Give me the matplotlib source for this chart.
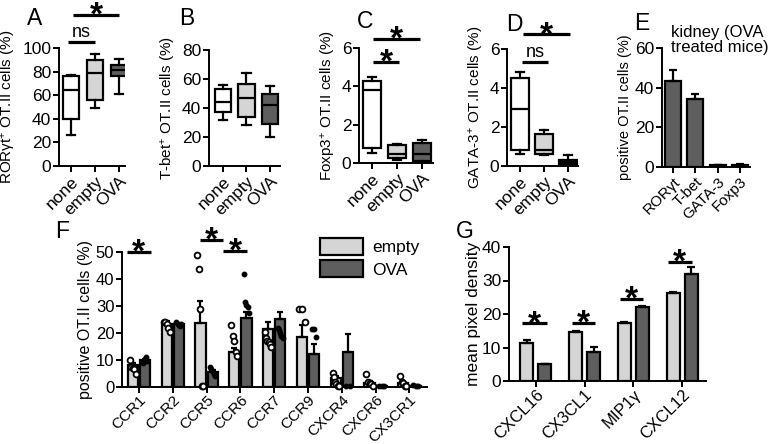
import numpy as np
import matplotlib
matplotlib.use("Agg")
import matplotlib.pyplot as plt
from matplotlib.patches import Patch

plt.rcParams["font.family"] = ["Liberation Sans", "DejaVu Sans"]
plt.rcParams["mathtext.fontset"] = "custom"
plt.rcParams["mathtext.rm"] = "Liberation Sans"
plt.rcParams["mathtext.it"] = "Liberation Sans:italic"
plt.rcParams["font.size"] = 12.5
plt.rcParams["axes.linewidth"] = 1.4

W, H = 772, 444

# --- panels A-D: box plots ---
groups = ["none", "empty", "OVA"]

rorgt_lo = [26, 49, 61]
rorgt_q1 = [40, 56, 76]
rorgt_med = [64, 79, 81]
rorgt_q3 = [76, 90, 86]
rorgt_hi = [77, 95, 91]

tbet_lo = [32, 28, 20]
tbet_q1 = [37.5, 33.5, 29]
tbet_med = [44, 47, 42]
tbet_q3 = [53, 56.5, 49.5]
tbet_hi = [56, 64, 55]

foxp3_lo = [0.5, 0.17, 0.03]
foxp3_q1 = [0.77, 0.26, 0.08]
foxp3_med = [3.8, 0.49, 0.49]
foxp3_q3 = [4.28, 0.92, 1.04]
foxp3_hi = [4.5, 0.99, 1.22]

gata3_lo = [0.6, 0.55, 0.0]
gata3_q1 = [0.8, 0.6, 0.12]
gata3_med = [2.92, 0.81, 0.2]
gata3_q3 = [4.5, 1.63, 0.3]
gata3_hi = [4.8, 1.84, 0.55]

# --- panel E ---
tf_names = ["RORγt", "T-bet", "GATA-3", "Foxp3"]
tf_mean = [43.5, 34.5, 0.8, 1.0]
tf_err = [5.5, 2.5, 0.3, 0.4]

# --- panel F ---
receptors = ["CCR1", "CCR2", "CCR5", "CCR6", "CCR7", "CCR9", "CXCR4", "CXCR6", "CX3CR1"]
rec_empty = [8, 23.3, 23.6, 13.1, 21.5, 18.6, 3.2, 1.6, 1.3]
rec_empty_err = [1, 1, 8.3, 1.2, 2.5, 4.4, 1, 0.8, 0.7]
rec_ova = [10, 23.3, 5.4, 25.4, 25.1, 12.1, 12.8, 0.3, 0.4]
rec_ova_err = [0.5, 0.5, 0.8, 2.5, 2.8, 3.7, 6.7, 0.1, 0.2]
rec_empty_pts = [
    [10, 7.5, 7, 6.5, 5],
    [24, 24, 23.5, 22, 20.5],
    [48.9, 43.6, 28.9, 0.5, 0.5],
    [23, 19, 17, 13, 11.5],
    [20.5, 18, 17, 16.5, 16, 15],
    [29, 29, 24],
    [5.3, 3.6, 2, 1, 0.5, 0.5],
    [5, 2, 1.5, 1, 0.5],
    [4, 2, 1.5, 0.5, 0.3],
]
rec_ova_pts = [
    [9, 10, 10.5, 11, 9.5],
    [24, 23.5, 23, 22.5, 23.5],
    [7.5, 6.5, 5.5, 5, 4],
    [41.7, 31.6, 30.4, 29.5, 27.5],
    [22, 21, 20, 19, 18],
    [21.5, 21.5, 18.6],
    [0.3, 0.3],
    [0.5, 0.3, 0.2],
    [0.8, 0.5, 0.3],
]

# --- panel G ---
chemokines = ["CXCL16", "CX3CL1", "MIP1γ", "CXCL12"]
dens_empty = [11.2, 14.7, 17.3, 26.3]
dens_empty_err = [1.0, 0.2, 0.4, 0.2]
dens_ova = [5.0, 8.7, 22.1, 31.9]
dens_ova_err = [0.2, 1.4, 0.2, 2.1]

white = "white"
light = "#d5d5d5"
dark = "#5e5e5e"
LW = 1.6

fig = plt.figure(figsize=(W / 100, H / 100), dpi=100)


def ax_px(x0, y0, x1, y1, tsize=12.5):
    ax = fig.add_axes([x0 / W, 1 - y1 / H, (x1 - x0) / W, (y1 - y0) / H])
    ax.spines["top"].set_visible(False)
    ax.spines["right"].set_visible(False)
    ax.tick_params(direction="out", length=4, width=1.4, pad=1.5, labelsize=tsize)
    return ax


def box_panel(ax, lo, q1, med, q3, hi, width):
    stats = []
    for i in range(len(lo)):
        stats.append(dict(whislo=lo[i], q1=q1[i], med=med[i], q3=q3[i], whishi=hi[i], fliers=[]))
    bp = ax.bxp(stats, positions=range(len(lo)), widths=width, patch_artist=True,
                showfliers=False, capwidths=width * 0.5,
                boxprops=dict(linewidth=LW, edgecolor="black"),
                medianprops=dict(color="black", linewidth=LW),
                whiskerprops=dict(color="black", linewidth=LW),
                capprops=dict(color="black", linewidth=LW))
    for patch, c in zip(bp["boxes"], [white, light, dark]):
        patch.set_facecolor(c)
    ax.set_xticks(range(len(groups)))
    ax.set_xticklabels(groups, rotation=45, ha="right", rotation_mode="anchor")


def sig(ax, x0, x1, y, text):
    ax.plot([x0, x1], [y, y], color="black", lw=2.3, clip_on=False, solid_capstyle="butt")
    if text == "*":
        ax.annotate("*", xy=((x0 + x1) / 2, y), xytext=(0, -7), textcoords="offset points",
                    ha="center", va="baseline", fontsize=24, fontweight="bold",
                    annotation_clip=False)
    else:
        ax.annotate(text, xy=((x0 + x1) / 2, y), xytext=(0, 0.5), textcoords="offset points",
                    ha="center", va="bottom", fontsize=13, annotation_clip=False)


def letter(x, y, s):
    fig.text(x / W, 1 - y / H, s, fontsize=16.5, va="top", ha="left")


# A
ax = ax_px(59, 48, 125, 166)
box_panel(ax, rorgt_lo, rorgt_q1, rorgt_med, rorgt_q3, rorgt_hi, 0.63)
ax.set_xlim(-0.5, 2.25)
ax.set_ylim(0, 100)
ax.set_yticks([0, 20, 40, 60, 80, 100])
ax.set_ylabel("RORγt$^{+}$ OT.II cells (%)", fontsize=11, labelpad=3)
sig(ax, -0.12, 1.0, 105, "ns")
sig(ax, 0.08, 2.0, 128, "*")
letter(27, 7, "A")

# B
ax = ax_px(209, 50, 280, 166)
box_panel(ax, tbet_lo, tbet_q1, tbet_med, tbet_q3, tbet_hi, 0.7)
ax.set_xlim(-0.6, 2.43)
ax.set_ylim(0, 80)
ax.set_yticks([0, 20, 40, 60, 80])
ax.set_ylabel("T-bet$^{+}$ OT.II cells (%)", fontsize=11, labelpad=3)
letter(179, 7, "B")

# C
ax = ax_px(359, 48, 433, 163)
box_panel(ax, foxp3_lo, foxp3_q1, foxp3_med, foxp3_q3, foxp3_hi, 0.7)
ax.set_xlim(-0.52, 2.44)
ax.set_ylim(0, 6)
ax.set_yticks([0, 2, 4, 6])
ax.set_ylabel("Foxp3$^{+}$ OT.II cells (%)", fontsize=11, labelpad=3)
sig(ax, 0.04, 1.08, 5.27, "*")
sig(ax, 0.04, 1.92, 6.46, "*")
letter(357, 10, "C")

# D
ax = ax_px(507, 49, 578, 166)
box_panel(ax, gata3_lo, gata3_q1, gata3_med, gata3_q3, gata3_hi, 0.72)
ax.set_xlim(-0.54, 2.42)
ax.set_ylim(0, 6)
ax.set_yticks([0, 2, 4, 6])
ax.set_ylabel("GATA-3$^{+}$ OT.II cells (%)", fontsize=11, labelpad=3)
sig(ax, 0.08, 1.17, 5.33, "ns")
sig(ax, 0.12, 2.08, 6.75, "*")
letter(506, 13, "D")

# E
ax = ax_px(662, 48, 750, 167)
xe = np.arange(len(tf_names))
ax.bar(xe, tf_mean, width=0.72, color=dark, edgecolor="black", linewidth=LW,
       yerr=[np.zeros(len(tf_err)), tf_err], capsize=3,
       error_kw=dict(elinewidth=LW, capthick=LW, ecolor="black"))
ax.set_xlim(-0.49, 3.45)
ax.set_ylim(0, 60)
ax.set_yticks([0, 20, 40, 60])
ax.set_xticks(xe)
ax.set_xticklabels(tf_names, rotation=45, ha="right", rotation_mode="anchor", fontsize=11)
ax.set_ylabel("positive OT.II cells (%)", fontsize=10.5, labelpad=2)
fig.text(671 / W, 1 - 25 / H, "kidney (OVA\ntreated mice)", va="top", ha="left",
         fontsize=12, linespacing=1.0)
letter(634, 12, "E")

# F
ax = ax_px(122, 252, 427, 387, tsize=12)
xf = np.arange(len(receptors))
off = 0.18
bw = 0.3
ax.bar(xf - off, rec_empty, width=bw, color=light, edgecolor="black", linewidth=LW,
       yerr=[np.zeros(len(xf)), rec_empty_err], capsize=2.5,
       error_kw=dict(elinewidth=LW, capthick=LW, ecolor="black"), zorder=2)
ax.bar(xf + off, rec_ova, width=bw, color=dark, edgecolor="black", linewidth=LW,
       yerr=[np.zeros(len(xf)), rec_ova_err], capsize=2.5,
       error_kw=dict(elinewidth=LW, capthick=LW, ecolor="black"), zorder=2)
for i in range(len(receptors)):
    pe = rec_empty_pts[i]
    ax.plot(i - off + np.linspace(-0.09, 0.09, len(pe)), pe, "o", ms=4.2, mfc="white",
            mec="black", mew=1.3, zorder=4, clip_on=False)
    po = rec_ova_pts[i]
    ax.plot(i + off + np.linspace(-0.07, 0.07, len(po)), po, "o", ms=3.2, mfc="black",
            mec="black", zorder=4, clip_on=False)
ax.set_xlim(-0.5, 8.52)
ax.set_ylim(0, 50)
ax.set_yticks([0, 10, 20, 30, 40, 50])
ax.set_xticks(xf)
ax.set_xticklabels(receptors, rotation=45, ha="right", rotation_mode="anchor", fontsize=11)
ax.tick_params(axis="x", pad=0)
ax.set_ylabel("positive OT.II cells (%)", fontsize=11.5, labelpad=2)
sig(ax, -0.35, 0.35, 50, "*")
sig(ax, 1.8, 2.48, 54.4, "*")
sig(ax, 2.5, 3.2, 50.4, "*")
fig.legend(handles=[Patch(facecolor=light, edgecolor="black", linewidth=LW, label="empty"),
                    Patch(facecolor=dark, edgecolor="black", linewidth=LW, label="OVA")],
           loc="upper left", bbox_to_anchor=(320 / W, 1 - 238 / H), frameon=False,
           handlelength=2.5, handleheight=1.1, labelspacing=0.3, handletextpad=0.5,
           borderpad=0, borderaxespad=0, fontsize=12.5)
letter(55, 220, "F")

# G
ax = ax_px(509, 247, 706, 381, tsize=12.5)
xg = np.arange(len(chemokines))
off = 0.185
bw = 0.27
ax.bar(xg - off, dens_empty, width=bw, color=light, edgecolor="black", linewidth=LW,
       yerr=[np.zeros(len(xg)), dens_empty_err], capsize=3,
       error_kw=dict(elinewidth=LW, capthick=LW, ecolor="black"))
ax.bar(xg + off, dens_ova, width=bw, color=dark, edgecolor="black", linewidth=LW,
       yerr=[np.zeros(len(xg)), dens_ova_err], capsize=3,
       error_kw=dict(elinewidth=LW, capthick=LW, ecolor="black"))
ax.set_xlim(-0.55, 3.49)
ax.set_ylim(0, 40)
ax.set_yticks([0, 10, 20, 30, 40])
ax.set_xticks(xg)
ax.set_xticklabels(chemokines, rotation=45, ha="right", rotation_mode="anchor", fontsize=12)
ax.tick_params(axis="x", pad=0.5)
ax.set_ylabel("mean pixel density", fontsize=12.5, labelpad=1)
sig(ax, -0.28, 0.22, 17.2, "*")
sig(ax, 0.74, 1.22, 17.3, "*")
sig(ax, 1.72, 2.2, 24.5, "*")
sig(ax, 2.71, 3.2, 35.5, "*")
letter(456, 220, "G")

fig.savefig("out.png", dpi=100, facecolor="white")
